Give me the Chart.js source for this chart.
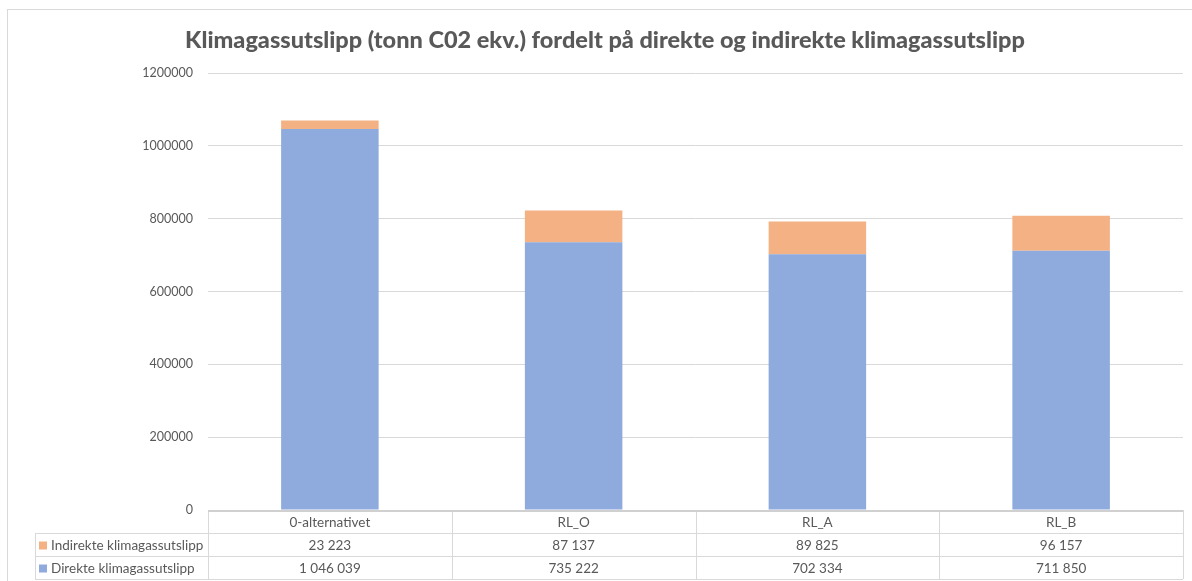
<!DOCTYPE html>
<html>
<head>
<meta charset="utf-8">
<script src="https://cdn.jsdelivr.net/npm/chart.js@4/dist/chart.umd.min.js"></script>
<style>
  html, body { margin: 0; padding: 0; background: #ffffff; }
  canvas { display: block; }
</style>
</head>
<body>
<canvas id="c" width="1192" height="581"></canvas>
<script>
// Scenario names and emissions per scenario (tonnes CO2 equivalent)
const categories = ['0-alternativet', 'RL_O', 'RL_A', 'RL_B'];
const direkte = [1046039, 735222, 702334, 711850];
const indirekte = [23223, 87137, 89825, 96157];
const seriesNames = ['Direkte klimagassutslipp', 'Indirekte klimagassutslipp'];
const yTicks = [0, 200000, 400000, 600000, 800000, 1000000, 1200000];
const titleText = 'Klimagassutslipp (tonn C02 ekv.) fordelt på direkte og indirekte klimagassutslipp';

const BLUE = '#8faadc';
const ORANGE = '#f4b183';
const TEXT = '#595959';
const LINE = '#d9d9d9';
const FONT = 'Lato, "Open Sans", sans-serif';

function fmt(n) {
  return String(n).replace(/\B(?=(\d{3})+(?!\d))/g, ' ');
}

// Frame, title and the data table below the plot
const tablePlugin = {
  id: 'excelTable',
  beforeDraw(chart) {
    const ctx = chart.ctx;
    ctx.save();
    ctx.fillStyle = '#ffffff';
    ctx.fillRect(0, 0, chart.width, chart.height);
    ctx.strokeStyle = LINE;
    ctx.lineWidth = 1;
    ctx.strokeRect(7.5, 9.5, chart.width + 20, chart.height + 20);
    ctx.restore();
  },
  afterDraw(chart) {
    const ctx = chart.ctx;
    const x = chart.scales.x;
    const area = chart.chartArea;
    const left = area.left, right = area.right, top = area.bottom;
    const rowH = 23;
    const legendLeft = 35;
    const colW = (right - left) / categories.length;

    ctx.save();
    // title
    ctx.fillStyle = TEXT;
    ctx.font = '900 23.5px ' + FONT;
    ctx.textAlign = 'center';
    ctx.textBaseline = 'middle';
    ctx.fillText(titleText, 605, 40);

    // table lines
    ctx.strokeStyle = LINE;
    ctx.lineWidth = 1;
    ctx.beginPath();
    for (let r = 1; r <= 3; r++) {
      const yy = Math.round(top + r * rowH) + 0.5;
      ctx.moveTo(legendLeft, yy);
      ctx.lineTo(right, yy);
    }
    for (let i = 0; i <= categories.length; i++) {
      const xx = Math.round(left + i * colW) + 0.5;
      ctx.moveTo(xx, top);
      ctx.lineTo(xx, top + 3 * rowH);
    }
    ctx.moveTo(legendLeft + 0.5, top + rowH);
    ctx.lineTo(legendLeft + 0.5, top + 3 * rowH);
    ctx.stroke();

    // axis line on top of the table
    ctx.strokeStyle = '#d0d0d0';
    ctx.lineWidth = 2;
    ctx.beginPath();
    ctx.moveTo(left, top + 1);
    ctx.lineTo(right, top + 1);
    ctx.stroke();

    // table text
    ctx.fillStyle = TEXT;
    ctx.font = '13.5px ' + FONT;
    ctx.textAlign = 'center';
    ctx.textBaseline = 'middle';
    const rows = [indirekte, direkte];
    categories.forEach((c, i) => {
      const cx = x.getPixelForValue(i);
      ctx.fillText(c, cx, top + rowH * 0.5 + 1);
      ctx.fillText(fmt(rows[0][i]), cx, top + rowH * 1.5 + 1);
      ctx.fillText(fmt(rows[1][i]), cx, top + rowH * 2.5 + 1);
    });

    // legend keys in the first column
    const keys = [[seriesNames[1], ORANGE], [seriesNames[0], BLUE]];
    ctx.textAlign = 'left';
    keys.forEach((k, r) => {
      const cy = top + rowH * (1.5 + r) + 1;
      ctx.fillStyle = k[1];
      ctx.fillRect(legendLeft + 4, cy - 4, 8, 8);
      ctx.fillStyle = TEXT;
      ctx.fillText(k[0], legendLeft + 16, cy);
    });
    ctx.restore();
  }
};

new Chart(document.getElementById('c'), {
  type: 'bar',
  data: {
    labels: categories,
    datasets: [
      { label: seriesNames[0], data: direkte, backgroundColor: BLUE, borderWidth: 0 },
      { label: seriesNames[1], data: indirekte, backgroundColor: ORANGE, borderWidth: 0 }
    ]
  },
  options: {
    responsive: false,
    animation: false,
    devicePixelRatio: 1,
    layout: { padding: { left: 0, right: 9, top: 73, bottom: 71 } },
    plugins: {
      legend: { display: false },
      title: { display: false },
      tooltip: { enabled: false }
    },
    datasets: { bar: { categoryPercentage: 1.0, barPercentage: 0.4 } },
    scales: {
      x: {
        stacked: true,
        display: false
      },
      y: {
        stacked: true,
        min: 0,
        max: 1200000,
        afterFit(scale) { scale.width = 208; },
        afterBuildTicks(scale) { scale.ticks = yTicks.map(v => ({ value: v })); },
        border: { display: false },
        grid: { color: LINE, lineWidth: 1, drawTicks: false },
        ticks: {
          padding: 15,
          color: TEXT,
          font: { family: FONT, size: 12.5 },
          callback: v => String(v)
        }
      }
    }
  },
  plugins: [tablePlugin]
});
</script>
</body>
</html>
